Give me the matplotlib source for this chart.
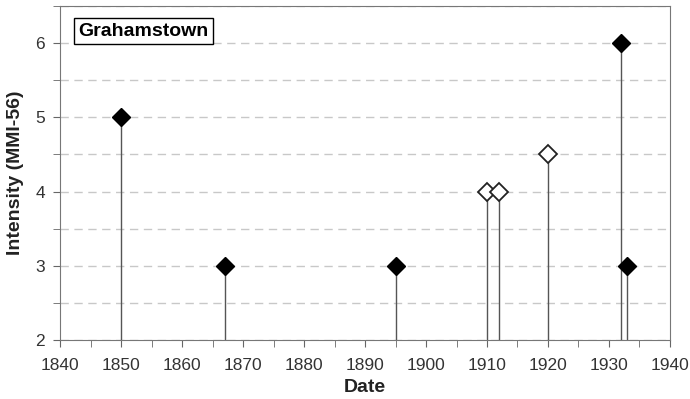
import numpy as np
import matplotlib.pyplot as plt
from matplotlib.ticker import MultipleLocator

plt.rcParams['font.family'] = ['Liberation Sans', 'DejaVu Sans']

# --- Données ---
annees_pleines = [1850, 1867, 1895, 1932, 1933]
intensite_pleines = [5, 3, 3, 6, 3]
annees_vides = [1910, 1912, 1920]
intensite_vides = [4, 4, 4.5]
station = "Grahamstown"

fig = plt.figure(figsize=(6.9, 3.99), dpi=100)
ax = fig.add_axes([0.087, 0.148, 0.884, 0.837])

# tiges verticales
ax.vlines(annees_pleines, 2, intensite_pleines, color="#555555", lw=1, zorder=2)
ax.vlines(annees_vides, 2, intensite_vides, color="#555555", lw=1, zorder=2)

ax.plot(annees_pleines, intensite_pleines, "D", ms=9, mfc="black", mec="black", ls="none", zorder=3)
ax.plot(annees_vides, intensite_vides, "D", ms=9, mfc="white", mec="#222222", mew=1.3, ls="none", zorder=3)

ax.set_xlim(1840, 1940)
ax.set_ylim(2, 6.5)
ax.xaxis.set_major_locator(MultipleLocator(10))
ax.xaxis.set_minor_locator(MultipleLocator(5))
ax.yaxis.set_major_locator(MultipleLocator(1))
ax.yaxis.set_minor_locator(MultipleLocator(0.5))

ax.grid(True, which="both", axis="y", ls=(0, (6, 4)), color="#c8c8c8", lw=1)
ax.set_axisbelow(True)

ax.tick_params(axis="both", which="both", direction="out", length=5, color="#666666", labelsize=12.5, labelcolor="#333333")
ax.tick_params(axis="x", pad=8)
ax.tick_params(axis="y", pad=6)
for s in ax.spines.values():
    s.set_color("#777777")

ax.set_xlabel("Date", fontsize=14, fontweight="bold", color="#222222", labelpad=4)
ax.set_ylabel("Intensity (MMI-56)", fontsize=14, fontweight="bold", color="#222222", labelpad=8)

ax.text(0.03, 0.95, station, transform=ax.transAxes, fontsize=14, fontweight="bold", va="top",
        bbox=dict(boxstyle="square,pad=0.22", fc="white", ec="black", lw=1))

fig.savefig("out.png", dpi=100)
